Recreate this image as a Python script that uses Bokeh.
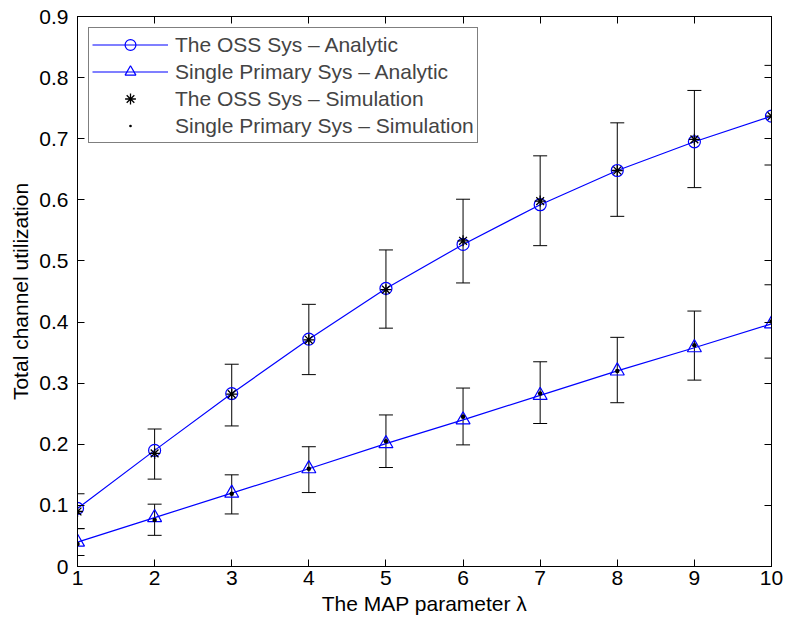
from bokeh.plotting import figure
from bokeh.models import (ColumnDataSource, Legend, LegendItem,
                          LinearAxis, FixedTicker, Range1d)
from bokeh.embed import file_html
from bokeh.resources import INLINE

# ---- data ----
lam = [1, 2, 3, 4, 5, 6, 7, 8, 9, 10]
oss_analytic = [0.095, 0.190, 0.283, 0.372, 0.455, 0.527, 0.592, 0.648, 0.695, 0.737]
oss_sim = [0.090, 0.185, 0.282, 0.371, 0.453, 0.533, 0.598, 0.648, 0.699, 0.737]
oss_lower = [0.062, 0.143, 0.230, 0.314, 0.390, 0.464, 0.525, 0.573, 0.620, 0.657]
oss_upper = [0.119, 0.225, 0.331, 0.429, 0.518, 0.601, 0.672, 0.726, 0.779, 0.820]
single_analytic = [0.040, 0.080, 0.120, 0.160, 0.201, 0.240, 0.280, 0.320, 0.358, 0.397]
single_sim = [0.037, 0.076, 0.119, 0.160, 0.205, 0.245, 0.283, 0.320, 0.362, 0.401]
single_lower = [0.018, 0.051, 0.086, 0.121, 0.162, 0.199, 0.234, 0.268, 0.305, 0.341]
single_upper = [0.062, 0.102, 0.150, 0.196, 0.248, 0.292, 0.335, 0.375, 0.418, 0.461]
y_ticks = [0, 0.1, 0.2, 0.3, 0.4, 0.5, 0.6, 0.7, 0.8, 0.9]
y_tick_labels = ["0", "0.1", "0.2", "0.3", "0.4", "0.5", "0.6", "0.7", "0.8", "0.9"]
labels = ["The OSS Sys \u2013 Analytic", "Single Primary Sys \u2013 Analytic",
          "The OSS Sys \u2013 Simulation", "Single Primary Sys \u2013 Simulation"]

FONT = "Liberation Sans"
FS = "21px"

p = figure(frame_width=694, frame_height=550, min_border_left=77, min_border_top=16,
           min_border_right=12, min_border_bottom=56,
           x_range=Range1d(1, 10), y_range=Range1d(0, 0.9),
           output_backend="svg", toolbar_location=None, background_fill_color="white")
p.grid.visible = False
p.outline_line_color = "black"
p.outline_line_width = 1

# axes
p.xaxis.ticker = FixedTicker(ticks=lam)
p.yaxis.ticker = FixedTicker(ticks=y_ticks)
p.yaxis.major_label_overrides = {t: s for t, s in zip(y_ticks, y_tick_labels)}
p.xaxis.axis_label = "The MAP parameter \u03bb"
p.yaxis.axis_label = "Total channel utilization"
for ax in (p.xaxis, p.yaxis):
    ax.major_tick_in = 7
    ax.major_tick_out = 0
    ax.minor_tick_line_color = None
    ax.axis_line_color = "black"
    ax.major_tick_line_color = "black"
    ax.major_label_text_font = FONT
    ax.major_label_text_font_size = FS
    ax.major_label_text_color = "black"
    ax.axis_label_text_font = FONT
    ax.axis_label_text_font_size = FS
    ax.axis_label_text_font_style = "normal"
    ax.axis_label_text_color = "black"
p.xaxis.major_label_standoff = 4
p.yaxis.major_label_standoff = 9
p.xaxis.axis_label_standoff = 4
p.yaxis.axis_label_standoff = 4

top_ax = LinearAxis(ticker=FixedTicker(ticks=lam), major_tick_in=7, major_tick_out=0,
                    minor_tick_line_color=None, major_label_text_font_size="1px",
                    major_label_text_color=None)
right_ax = LinearAxis(ticker=FixedTicker(ticks=y_ticks), major_tick_in=7, major_tick_out=0,
                      minor_tick_line_color=None, major_label_text_font_size="1px",
                      major_label_text_color=None)
p.add_layout(top_ax, "above")
p.add_layout(right_ax, "right")

# error bars (glyphs, clipped to the frame)
err = ColumnDataSource(dict(x=lam + lam, lo=oss_lower + single_lower,
                            hi=oss_upper + single_upper))
p.segment(x0="x", y0="lo", x1="x", y1="hi", source=err, line_color="black", line_width=1)
p.scatter(x="x", y="lo", source=err, marker="dash", size=14, line_color="black", line_width=1)
p.scatter(x="x", y="hi", source=err, marker="dash", size=14, line_color="black", line_width=1)

blue = "#0000ff"
l1 = p.line(lam, oss_analytic, line_color=blue, line_width=1.2)
m1 = p.scatter(lam, oss_analytic, marker="circle", size=12, fill_color=None,
               line_color=blue, line_width=1.2)
l2 = p.line(lam, single_analytic, line_color=blue, line_width=1.2)
m2 = p.scatter(lam, single_analytic, marker="triangle", size=14, fill_color=None,
               line_color=blue, line_width=1.2)
m3 = p.scatter(lam, oss_sim, marker="asterisk", size=11, line_color="black", line_width=1.3)
m4 = p.scatter(lam, single_sim, marker="dot", size=18, line_color="black",
               fill_color="black")

legend = Legend(items=[LegendItem(label=labels[0], renderers=[l1, m1]),
                       LegendItem(label=labels[1], renderers=[l2, m2]),
                       LegendItem(label=labels[2], renderers=[m3]),
                       LegendItem(label=labels[3], renderers=[m4])],
                location="top_left", margin=11, padding=3, spacing=0,
                glyph_width=76, glyph_height=27, label_height=27, label_standoff=7,
                label_text_font=FONT, label_text_font_size=FS,
                border_line_color="black", border_line_width=1,
                background_fill_color="white", background_fill_alpha=1)
p.add_layout(legend, "center")

open("out.html", "w").write(file_html(p, INLINE))
